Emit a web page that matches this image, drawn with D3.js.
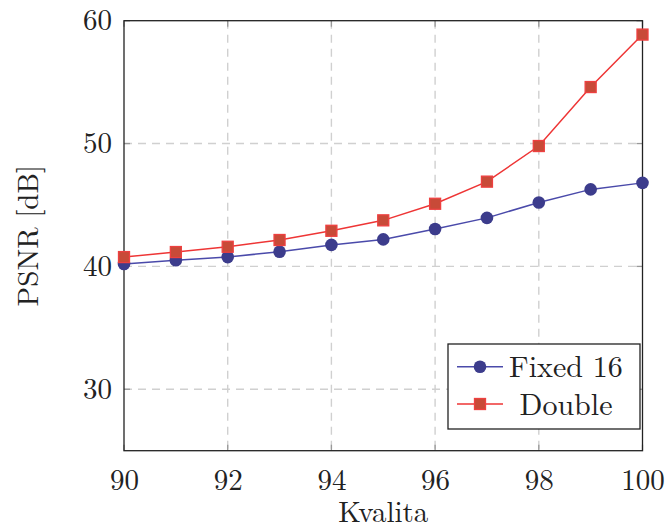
<!DOCTYPE html>
<html>
<head>
<meta charset="utf-8">
<script src="https://cdn.jsdelivr.net/npm/d3@7"></script>
<style>
  body { margin: 0; background: #fff; }
  svg { display: block; font-family: "Latin Modern Roman", "CMU Serif", "Liberation Serif", serif; }
</style>
</head>
<body>
<svg id="chart" width="667" height="529"></svg>
<script>
const quality = [90, 91, 92, 93, 94, 95, 96, 97, 98, 99, 100];
const fixed16 = [40.2, 40.5, 40.76, 41.2, 41.75, 42.2, 43.05, 43.95, 45.2, 46.27, 46.8];
const double = [40.76, 41.17, 41.6, 42.15, 42.9, 43.75, 45.1, 46.9, 49.8, 54.6, 58.87];
const xTicks = [90, 92, 94, 96, 98, 100];
const yTicks = [30, 40, 50, 60];
const seriesNames = ['Fixed 16', 'Double'];

const margin = {top: 20.7, right: 24.5, bottom: 78.3, left: 124};
const WIDTH = 667, HEIGHT = 529;
const width = WIDTH - margin.left - margin.right,
      height = HEIGHT - margin.top - margin.bottom;
const FONT = '"Latin Modern Roman", "CMU Serif", "Liberation Serif", serif';

const svg = d3.select('#chart');
const g = svg.append('g').attr('transform', `translate(${margin.left},${margin.top})`);

const x = d3.scaleLinear().domain([90, 100]).range([0, width]);
const y = d3.scaleLinear().domain([25, 60]).range([height, 0]);

// grid
g.append('g').selectAll('line')
  .data(xTicks.slice(1, -1))
  .join('line')
  .attr('x1', d => x(d)).attr('x2', d => x(d))
  .attr('y1', 0).attr('y2', height)
  .attr('stroke', '#d0d0d0').attr('stroke-width', 1.4)
  .attr('stroke-dasharray', '8,6');
g.append('g').selectAll('line')
  .data(yTicks.filter(d => d < 60))
  .join('line')
  .attr('x1', 0).attr('x2', width)
  .attr('y1', d => y(d)).attr('y2', d => y(d))
  .attr('stroke', '#d0d0d0').attr('stroke-width', 1.4)
  .attr('stroke-dasharray', '8,6');

// inner tick marks on all four sides
const tickLen = 6;
const tg = g.append('g').attr('stroke', '#999').attr('stroke-width', 1.3);
xTicks.forEach(t => {
  tg.append('line').attr('x1', x(t)).attr('x2', x(t)).attr('y1', height).attr('y2', height - tickLen);
  tg.append('line').attr('x1', x(t)).attr('x2', x(t)).attr('y1', 0).attr('y2', tickLen);
});
yTicks.forEach(t => {
  tg.append('line').attr('x1', 0).attr('x2', tickLen).attr('y1', y(t)).attr('y2', y(t));
  tg.append('line').attr('x1', width).attr('x2', width - tickLen).attr('y1', y(t)).attr('y2', y(t));
});

// tick labels via axes
const xAxis = g.append('g')
  .attr('transform', `translate(0,${height})`)
  .call(d3.axisBottom(x).tickValues(xTicks).tickSize(0).tickPadding(12).tickFormat(d3.format('d')));
const yAxis = g.append('g')
  .call(d3.axisLeft(y).tickValues(yTicks).tickSize(0).tickPadding(12).tickFormat(d3.format('d')));
[xAxis, yAxis].forEach(a => {
  a.attr('font-family', FONT).attr('font-size', 29);
  a.select('.domain').remove();
  a.selectAll('text').attr('fill', '#222');
});
xAxis.selectAll('text').attr('dy', '0.95em');

// frame
g.append('rect')
  .attr('width', width).attr('height', height)
  .attr('fill', 'none').attr('stroke', '#222').attr('stroke-width', 1.3);

const line = d3.line().x((d, i) => x(quality[i])).y(d => y(d));

// Fixed 16
g.append('path').datum(fixed16)
  .attr('d', line).attr('fill', 'none')
  .attr('stroke', '#4a4aaa').attr('stroke-width', 1.5);
g.append('g').selectAll('circle')
  .data(fixed16).join('circle')
  .attr('cx', (d, i) => x(quality[i])).attr('cy', d => y(d))
  .attr('r', 6.3).attr('fill', '#3c3c8c');

// Double
g.append('path').datum(double)
  .attr('d', line).attr('fill', 'none')
  .attr('stroke', '#ee3535').attr('stroke-width', 1.5);
const sq = 11;
g.append('g').selectAll('rect')
  .data(double).join('rect')
  .attr('x', (d, i) => x(quality[i]) - sq / 2).attr('y', d => y(d) - sq / 2)
  .attr('width', sq).attr('height', sq)
  .attr('fill', '#c84a38').attr('stroke', '#ee4040').attr('stroke-width', 1.3);

// axis titles
svg.append('text')
  .attr('x', margin.left + width / 2).attr('y', 522)
  .attr('text-anchor', 'middle').attr('font-size', 29).attr('fill', '#222')
  .text('Kvalita');
svg.append('text')
  .attr('transform', `translate(38,${margin.top + height / 2}) rotate(-90)`)
  .attr('text-anchor', 'middle').attr('font-size', 29).attr('fill', '#222')
  .text('PSNR [dB]');

// legend
const lg = svg.append('g').attr('transform', 'translate(448,344)');
lg.append('rect').attr('width', 192).attr('height', 85)
  .attr('fill', '#fff').attr('stroke', '#222').attr('stroke-width', 1.3);
const rows = [22.7, 60];
lg.append('line').attr('x1', 9).attr('x2', 55).attr('y1', rows[0]).attr('y2', rows[0])
  .attr('stroke', '#4a4aaa').attr('stroke-width', 1.5);
lg.append('circle').attr('cx', 32).attr('cy', rows[0]).attr('r', 6.3).attr('fill', '#3c3c8c');
lg.append('line').attr('x1', 9).attr('x2', 55).attr('y1', rows[1]).attr('y2', rows[1])
  .attr('stroke', '#ee3535').attr('stroke-width', 1.5);
lg.append('rect').attr('x', 32 - sq / 2).attr('y', rows[1] - sq / 2).attr('width', sq).attr('height', sq)
  .attr('fill', '#c84a38').attr('stroke', '#ee4040').attr('stroke-width', 1.3);
lg.selectAll('text.lab')
  .data(seriesNames).join('text')
  .attr('class', 'lab')
  .attr('x', 118).attr('y', (d, i) => rows[i])
  .attr('dy', '0.35em').attr('text-anchor', 'middle')
  .attr('font-size', 30).attr('fill', '#222')
  .text(d => d);
</script>
</body>
</html>
